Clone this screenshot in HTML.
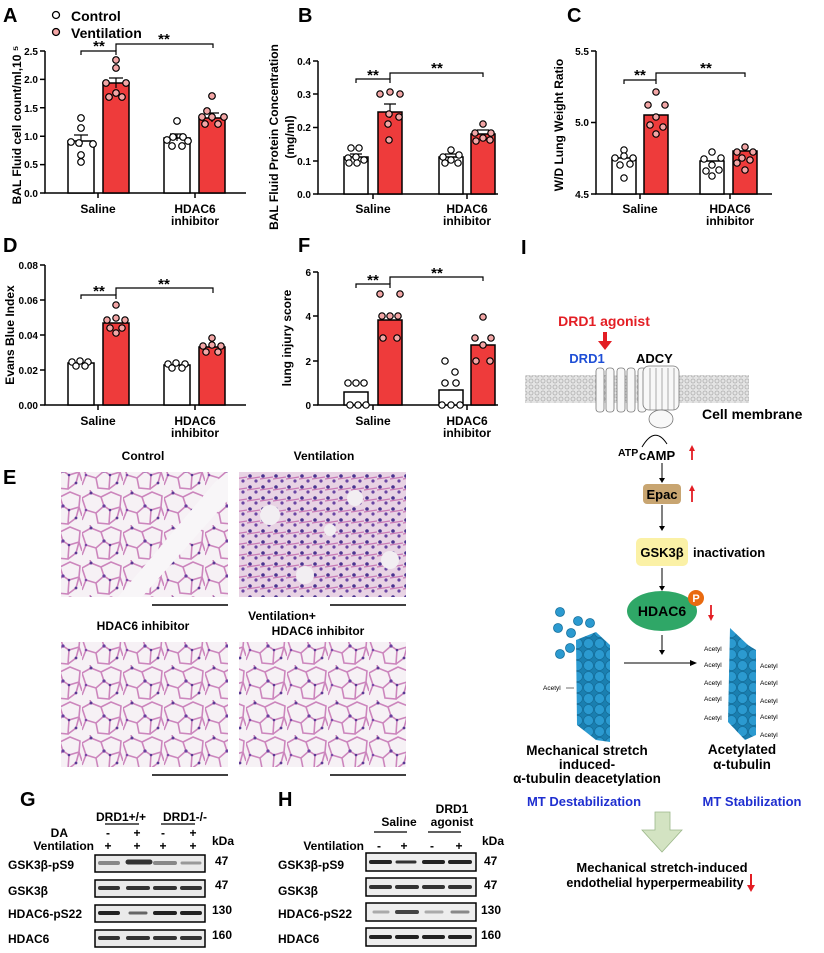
<!DOCTYPE html>
<html><head><meta charset="utf-8"><style>
body{margin:0;background:#fff}
svg{display:block;font-family:"Liberation Sans",Arial,sans-serif;font-weight:bold}
</style></head><body>
<svg width="824" height="953" viewBox="0 0 824 953" xmlns="http://www.w3.org/2000/svg">
<defs>
<pattern id="tis" width="41" height="35" patternUnits="userSpaceOnUse">
<rect width="41" height="35" fill="#f6f1f5"/>
<path d="M0 8 L9 3 L19 7 L22 16 L14 23 L4 20 Z M19 7 L29 2 L39 6 L38 17 L28 20 L22 16 M14 23 L16 33 L27 34 L28 20 M38 17 L41 26 M4 20 L0 30 M27 34 L35 28 L38 17 M9 3 L8 0" stroke="#cc86bd" stroke-width="1.6" fill="none"/>
<circle cx="9" cy="3" r="1.5" fill="#5b3a94"/><circle cx="22" cy="16" r="1.6" fill="#6a3f9e"/><circle cx="28" cy="20" r="1.3" fill="#5b3a94"/><circle cx="4" cy="20" r="1.3" fill="#7a4aa8"/><circle cx="35" cy="28" r="1.4" fill="#5b3a94"/>
</pattern>
<pattern id="tis2" width="13" height="11" patternUnits="userSpaceOnUse">
<rect width="13" height="11" fill="#e8d3e4"/>
<circle cx="3" cy="3" r="1.8" fill="#4a3390"/><circle cx="9" cy="8" r="1.6" fill="#6a46a4"/>
<path d="M0 6 L13 4" stroke="#c97ab6" stroke-width="1.3"/>
</pattern>
<pattern id="mem" width="6" height="6" patternUnits="userSpaceOnUse">
<rect width="6" height="6" fill="#e4e4e4"/><circle cx="3" cy="3" r="2" fill="none" stroke="#b0b0b0" stroke-width="0.8"/>
</pattern>
<pattern id="tub" width="11" height="11" patternUnits="userSpaceOnUse">
<rect width="11" height="11" fill="#1a7fb0"/><circle cx="5.5" cy="5.5" r="5" fill="#2b9ad0" stroke="#156f9c" stroke-width="0.8"/>
</pattern>
</defs>

<!-- ============ Panel A ============ -->
<text x="3" y="22" font-size="20">A</text>
<circle cx="56" cy="15" r="3.5" fill="#fff" stroke="#000" stroke-width="1.3"/>
<text x="71" y="21" font-size="14">Control</text>
<circle cx="56" cy="32" r="3.5" fill="#f3a6a6" stroke="#000" stroke-width="1.3"/>
<text x="71" y="38" font-size="14">Ventilation</text>
<g stroke="#000" stroke-width="1.5" fill="none">
<path d="M45 51 V193 H246"/>
<path d="M40 51 H45 M40 79.4 H45 M40 107.8 H45 M40 136.2 H45 M40 164.6 H45 M40 193 H45 M98 193 V198 M195 193 V198"/>
</g>
<g font-size="10" text-anchor="end"><text x="38" y="55">2.5</text><text x="38" y="83">2.0</text><text x="38" y="112">1.5</text><text x="38" y="140">1.0</text><text x="38" y="168">0.5</text><text x="38" y="197">0.0</text></g>
<text transform="translate(21,125) rotate(-90)" font-size="12" text-anchor="middle">BAL Fluid cell count/ml,10 ⁵</text>
<g stroke="#000" stroke-width="1.5">
<rect x="68" y="141" width="26" height="52" fill="#fff"/>
<rect x="103" y="83" width="26" height="110" fill="#ee3b3b"/>
<rect x="164" y="138" width="26" height="55" fill="#fff"/>
<rect x="199" y="118" width="26" height="75" fill="#ee3b3b"/>
</g>
<g stroke="#000" stroke-width="1.2" fill="none"><path d="M74 135 H88 M81 135 V147"/><path d="M109 78 H123 M116 78 V88"/><path d="M170 134 H184 M177 134 V141"/><path d="M205 113 H219 M212 113 V122"/></g>
<g fill="#fff" stroke="#000" stroke-width="1.2"><circle cx="81" cy="118" r="3.3"/><circle cx="81" cy="128" r="3.3"/><circle cx="71" cy="142" r="3.3"/><circle cx="93" cy="144" r="3.3"/><circle cx="79" cy="143" r="3.3"/><circle cx="81" cy="155" r="3.3"/><circle cx="81" cy="162" r="3.3"/>
<circle cx="177" cy="121" r="3.3"/><circle cx="167" cy="140" r="3.3"/><circle cx="173" cy="137" r="3.3"/><circle cx="183" cy="137" r="3.3"/><circle cx="188" cy="141" r="3.3"/><circle cx="172" cy="146" r="3.3"/><circle cx="182" cy="146" r="3.3"/></g>
<g fill="#f3a6a6" stroke="#000" stroke-width="1.2"><circle cx="116" cy="60" r="3.3"/><circle cx="116" cy="68" r="3.3"/><circle cx="106" cy="83" r="3.3"/><circle cx="126" cy="83" r="3.3"/><circle cx="109" cy="97" r="3.3"/><circle cx="122" cy="97" r="3.3"/><circle cx="116" cy="93" r="3.3"/>
<circle cx="212" cy="96" r="3.3"/><circle cx="207" cy="111" r="3.3"/><circle cx="202" cy="117" r="3.3"/><circle cx="224" cy="117" r="3.3"/><circle cx="212" cy="117" r="3.3"/><circle cx="205" cy="124" r="3.3"/><circle cx="218" cy="124" r="3.3"/></g>
<g stroke="#000" stroke-width="1.2" fill="none"><path d="M81 55 V51 H116 V55"/><path d="M116 51 V44 H213 V48"/></g>
<text x="99" y="51" font-size="15" text-anchor="middle">**</text><text x="164" y="44" font-size="15" text-anchor="middle">**</text>
<text x="98" y="213" font-size="12" text-anchor="middle">Saline</text>
<text x="195" y="213" font-size="12" text-anchor="middle">HDAC6</text><text x="195" y="225" font-size="12" text-anchor="middle">inhibitor</text>

<!-- ============ Panel B ============ -->
<text x="298" y="22" font-size="20">B</text>
<g stroke="#000" stroke-width="1.5" fill="none"><path d="M318 61 V194 H498"/><path d="M313 61 H318 M313 94 H318 M313 127.5 H318 M313 161 H318 M313 194 H318 M373 194 V199 M467 194 V199"/></g>
<g font-size="10" text-anchor="end"><text x="311" y="65">0.4</text><text x="311" y="98">0.3</text><text x="311" y="131">0.2</text><text x="311" y="165">0.1</text><text x="311" y="198">0.0</text></g>
<text transform="translate(278,137) rotate(-90)" font-size="12" text-anchor="middle">BAL Fluid Protein Concentration</text>
<text transform="translate(294,137) rotate(-90)" font-size="12" text-anchor="middle">(mg/ml)</text>
<g stroke="#000" stroke-width="1.5"><rect x="344" y="157" width="24" height="37" fill="#fff"/><rect x="378" y="112" width="24" height="82" fill="#ee3b3b"/><rect x="439" y="157" width="24" height="37" fill="#fff"/><rect x="471" y="134" width="24" height="60" fill="#ee3b3b"/></g>
<g stroke="#000" stroke-width="1.2"><path d="M350 154 H362 M384 104 H396 M390 104 V118 M445 154 H457 M477 130 H489"/></g>
<g fill="#fff" stroke="#000" stroke-width="1.2"><circle cx="351" cy="148" r="3.2"/><circle cx="359" cy="148" r="3.2"/><circle cx="348" cy="158" r="3.2"/><circle cx="356" cy="157" r="3.2"/><circle cx="364" cy="160" r="3.2"/><circle cx="349" cy="163" r="3.2"/><circle cx="357" cy="163" r="3.2"/>
<circle cx="451" cy="150" r="3.2"/><circle cx="443" cy="157" r="3.2"/><circle cx="459" cy="155" r="3.2"/><circle cx="451" cy="160" r="3.2"/><circle cx="445" cy="163" r="3.2"/><circle cx="458" cy="163" r="3.2"/></g>
<g fill="#f3a6a6" stroke="#000" stroke-width="1.2"><circle cx="380" cy="94" r="3.2"/><circle cx="390" cy="92" r="3.2"/><circle cx="400" cy="94" r="3.2"/><circle cx="389" cy="114" r="3.2"/><circle cx="399" cy="117" r="3.2"/><circle cx="388" cy="124" r="3.2"/><circle cx="389" cy="140" r="3.2"/>
<circle cx="483" cy="124" r="3.2"/><circle cx="475" cy="133" r="3.2"/><circle cx="491" cy="133" r="3.2"/><circle cx="483" cy="138" r="3.2"/><circle cx="476" cy="141" r="3.2"/><circle cx="490" cy="140" r="3.2"/></g>
<g stroke="#000" stroke-width="1.2" fill="none"><path d="M356 83 V79 H390 V83"/><path d="M390 79 V73 H483 V77"/></g>
<text x="373" y="80" font-size="15" text-anchor="middle">**</text><text x="437" y="73" font-size="15" text-anchor="middle">**</text>
<text x="373" y="213" font-size="12" text-anchor="middle">Saline</text>
<text x="467" y="213" font-size="12" text-anchor="middle">HDAC6</text><text x="467" y="225" font-size="12" text-anchor="middle">inhibitor</text>

<!-- ============ Panel C ============ -->
<text x="567" y="22" font-size="20">C</text>
<g stroke="#000" stroke-width="1.5" fill="none"><path d="M596 51 V194 H772"/><path d="M591 51 H596 M591 122.5 H596 M591 194 H596 M640 194 V199 M730 194 V199"/></g>
<g font-size="10" text-anchor="end"><text x="589" y="55">5.5</text><text x="589" y="126">5.0</text><text x="589" y="198">4.5</text></g>
<text transform="translate(563,125) rotate(-90)" font-size="12" text-anchor="middle">W/D Lung Weight Ratio</text>
<g stroke="#000" stroke-width="1.5"><rect x="612" y="158" width="24" height="36" fill="#fff"/><rect x="644" y="115" width="24" height="79" fill="#ee3b3b"/><rect x="700" y="161" width="24" height="33" fill="#fff"/><rect x="733" y="151" width="24" height="43" fill="#ee3b3b"/></g>
<g fill="#fff" stroke="#000" stroke-width="1.2"><circle cx="624" cy="150" r="3.2"/><circle cx="615" cy="158" r="3.2"/><circle cx="624" cy="156" r="3.2"/><circle cx="633" cy="158" r="3.2"/><circle cx="620" cy="165" r="3.2"/><circle cx="630" cy="164" r="3.2"/><circle cx="624" cy="178" r="3.2"/>
<circle cx="712" cy="152" r="3.2"/><circle cx="704" cy="159" r="3.2"/><circle cx="721" cy="158" r="3.2"/><circle cx="712" cy="165" r="3.2"/><circle cx="706" cy="171" r="3.2"/><circle cx="719" cy="170" r="3.2"/><circle cx="712" cy="176" r="3.2"/></g>
<g fill="#f3a6a6" stroke="#000" stroke-width="1.2"><circle cx="656" cy="92" r="3.2"/><circle cx="648" cy="105" r="3.2"/><circle cx="665" cy="105" r="3.2"/><circle cx="656" cy="117" r="3.2"/><circle cx="650" cy="125" r="3.2"/><circle cx="663" cy="127" r="3.2"/><circle cx="656" cy="134" r="3.2"/>
<circle cx="745" cy="147" r="3.2"/><circle cx="737" cy="152" r="3.2"/><circle cx="753" cy="152" r="3.2"/><circle cx="742" cy="158" r="3.2"/><circle cx="750" cy="160" r="3.2"/><circle cx="737" cy="163" r="3.2"/><circle cx="745" cy="170" r="3.2"/></g>
<g stroke="#000" stroke-width="1.2" fill="none"><path d="M624 84 V80 H656 V84"/><path d="M656 80 V73 H745 V77"/></g>
<text x="640" y="80" font-size="15" text-anchor="middle">**</text><text x="706" y="73" font-size="15" text-anchor="middle">**</text>
<text x="640" y="213" font-size="12" text-anchor="middle">Saline</text>
<text x="730" y="213" font-size="12" text-anchor="middle">HDAC6</text><text x="730" y="225" font-size="12" text-anchor="middle">inhibitor</text>

<!-- ============ Panel D ============ -->
<text x="3" y="252" font-size="20">D</text>
<g stroke="#000" stroke-width="1.5" fill="none"><path d="M45 265 V405 H246"/><path d="M40 265 H45 M40 300 H45 M40 335 H45 M40 370 H45 M40 405 H45 M98 405 V410 M195 405 V410"/></g>
<g font-size="10" text-anchor="end"><text x="38" y="269">0.08</text><text x="38" y="304">0.06</text><text x="38" y="339">0.04</text><text x="38" y="374">0.02</text><text x="38" y="409">0.00</text></g>
<text transform="translate(14,335) rotate(-90)" font-size="12" text-anchor="middle">Evans Blue Index</text>
<g stroke="#000" stroke-width="1.5"><rect x="68" y="363" width="26" height="42" fill="#fff"/><rect x="103" y="323" width="26" height="82" fill="#ee3b3b"/><rect x="164" y="365" width="26" height="40" fill="#fff"/><rect x="199" y="347" width="26" height="58" fill="#ee3b3b"/></g>
<g fill="#fff" stroke="#000" stroke-width="1.2"><circle cx="72" cy="362" r="3.2"/><circle cx="80" cy="361" r="3.2"/><circle cx="88" cy="362" r="3.2"/><circle cx="76" cy="366" r="3.2"/><circle cx="85" cy="366" r="3.2"/>
<circle cx="168" cy="364" r="3.2"/><circle cx="176" cy="363" r="3.2"/><circle cx="185" cy="364" r="3.2"/><circle cx="172" cy="368" r="3.2"/><circle cx="182" cy="368" r="3.2"/></g>
<g fill="#f3a6a6" stroke="#000" stroke-width="1.2"><circle cx="116" cy="305" r="3.2"/><circle cx="107" cy="320" r="3.2"/><circle cx="116" cy="318" r="3.2"/><circle cx="125" cy="320" r="3.2"/><circle cx="110" cy="328" r="3.2"/><circle cx="122" cy="328" r="3.2"/><circle cx="116" cy="333" r="3.2"/>
<circle cx="212" cy="338" r="3.2"/><circle cx="203" cy="346" r="3.2"/><circle cx="212" cy="345" r="3.2"/><circle cx="221" cy="346" r="3.2"/><circle cx="206" cy="352" r="3.2"/><circle cx="218" cy="352" r="3.2"/></g>
<g stroke="#000" stroke-width="1.2" fill="none"><path d="M81 299 V295 H116 V299"/><path d="M116 295 V288 H213 V293"/></g>
<text x="99" y="296" font-size="15" text-anchor="middle">**</text><text x="164" y="289" font-size="15" text-anchor="middle">**</text>
<text x="98" y="425" font-size="12" text-anchor="middle">Saline</text>
<text x="195" y="425" font-size="12" text-anchor="middle">HDAC6</text><text x="195" y="437" font-size="12" text-anchor="middle">inhibitor</text>

<!-- ============ Panel F ============ -->
<text x="298" y="252" font-size="20">F</text>
<g stroke="#000" stroke-width="1.5" fill="none"><path d="M318 272 V405 H498"/><path d="M313 272 H318 M313 316 H318 M313 361 H318 M313 405 H318 M373 405 V410 M467 405 V410"/></g>
<g font-size="10" text-anchor="end"><text x="311" y="276">6</text><text x="311" y="320">4</text><text x="311" y="365">2</text><text x="311" y="409">0</text></g>
<text transform="translate(291,338) rotate(-90)" font-size="12" text-anchor="middle">lung injury score</text>
<g stroke="#000" stroke-width="1.5"><rect x="344" y="392" width="24" height="13" fill="#fff"/><rect x="378" y="320" width="24" height="85" fill="#ee3b3b"/><rect x="439" y="390" width="24" height="15" fill="#fff"/><rect x="471" y="345" width="24" height="60" fill="#ee3b3b"/></g>
<g fill="#fff" stroke="#000" stroke-width="1.2"><circle cx="356" cy="383" r="3.2"/><circle cx="348" cy="383" r="3.2"/><circle cx="364" cy="383" r="3.2"/><circle cx="350" cy="405" r="3.2"/><circle cx="358" cy="405" r="3.2"/><circle cx="366" cy="405" r="3.2"/>
<circle cx="445" cy="361" r="3.2"/><circle cx="455" cy="372" r="3.2"/><circle cx="445" cy="383" r="3.2"/><circle cx="456" cy="383" r="3.2"/><circle cx="442" cy="405" r="3.2"/><circle cx="451" cy="405" r="3.2"/><circle cx="460" cy="405" r="3.2"/></g>
<g fill="#f3a6a6" stroke="#000" stroke-width="1.2"><circle cx="380" cy="294" r="3.2"/><circle cx="400" cy="294" r="3.2"/><circle cx="390" cy="316" r="3.2"/><circle cx="382" cy="316" r="3.2"/><circle cx="398" cy="316" r="3.2"/><circle cx="383" cy="338" r="3.2"/><circle cx="397" cy="338" r="3.2"/>
<circle cx="483" cy="317" r="3.2"/><circle cx="475" cy="338" r="3.2"/><circle cx="491" cy="338" r="3.2"/><circle cx="483" cy="345" r="3.2"/><circle cx="476" cy="361" r="3.2"/><circle cx="490" cy="361" r="3.2"/></g>
<g stroke="#000" stroke-width="1.2" fill="none"><path d="M356 288 V284 H390 V288"/><path d="M390 284 V277 H483 V281"/></g>
<text x="373" y="285" font-size="15" text-anchor="middle">**</text><text x="437" y="278" font-size="15" text-anchor="middle">**</text>
<text x="373" y="425" font-size="12" text-anchor="middle">Saline</text>
<text x="467" y="425" font-size="12" text-anchor="middle">HDAC6</text><text x="467" y="437" font-size="12" text-anchor="middle">inhibitor</text>

<!-- ============ Panel E ============ -->
<text x="3" y="484" font-size="20">E</text>
<text x="143" y="460" font-size="12" text-anchor="middle">Control</text>
<text x="324" y="460" font-size="12" text-anchor="middle">Ventilation</text>
<rect x="61" y="472" width="167" height="125" fill="url(#tis)"/>
<path d="M118 597 L215 482 L228 472 L228 500 L142 597 Z" fill="#f8f6f8"/>
<rect x="239" y="472" width="167" height="125" fill="url(#tis2)"/>
<circle cx="270" cy="515" r="10" fill="#f2eef2"/><circle cx="305" cy="575" r="9" fill="#f2eef2"/><circle cx="355" cy="498" r="8" fill="#f2eef2"/><circle cx="390" cy="560" r="9" fill="#f2eef2"/><circle cx="330" cy="530" r="6" fill="#f2eef2"/>
<path d="M152 605 H228 M330 605 H406" stroke="#000" stroke-width="1.5"/>
<text x="143" y="630" font-size="12" text-anchor="middle">HDAC6 inhibitor</text>
<text x="282" y="620" font-size="12" text-anchor="middle">Ventilation+</text>
<text x="318" y="635" font-size="12" text-anchor="middle">HDAC6 inhibitor</text>
<rect x="61" y="642" width="167" height="125" fill="url(#tis)"/>
<rect x="239" y="642" width="167" height="125" fill="url(#tis)"/>
<path d="M152 775 H228 M330 775 H406" stroke="#000" stroke-width="1.5"/>

<!-- ============ Panel G ============ -->
<text x="20" y="806" font-size="20">G</text>
<text x="96" y="821" font-size="12">DRD1+/+</text><text x="163" y="821" font-size="12">DRD1-/-</text>
<path d="M105 824 H139 M161 824 H195" stroke="#000" stroke-width="1.2"/>
<text x="68" y="837" font-size="12" text-anchor="end">DA</text>
<text x="94" y="850" font-size="12" text-anchor="end">Ventilation</text>
<g font-size="12" text-anchor="middle"><text x="108" y="837">-</text><text x="137" y="837">+</text><text x="163" y="837">-</text><text x="193" y="837">+</text>
<text x="108" y="850">+</text><text x="137" y="850">+</text><text x="163" y="850">+</text><text x="193" y="850">+</text></g>
<text x="212" y="845" font-size="12">kDa</text>
<g font-size="12">
<text x="8" y="869">GSK3β-pS9</text><text x="8" y="895">GSK3β</text><text x="8" y="918">HDAC6-pS22</text><text x="8" y="943">HDAC6</text>
<text x="215" y="865">47</text><text x="215" y="889">47</text><text x="212" y="914">130</text><text x="212" y="939">160</text>
</g>
<g stroke="#000" stroke-width="1.5" fill="#eaeaea">
<rect x="95" y="855" width="110" height="17"/><rect x="95" y="880" width="110" height="17"/><rect x="95" y="905" width="110" height="17"/><rect x="95" y="930" width="110" height="17"/>
</g>
<g stroke-linecap="round">
<path d="M100 863 H118" stroke="#888" stroke-width="4"/><path d="M128 862 H150" stroke="#333" stroke-width="5"/><path d="M155 863 H175" stroke="#888" stroke-width="4"/><path d="M182 863 H200" stroke="#999" stroke-width="3"/>
<path d="M100 888 H118 M128 888 H148 M155 888 H175 M182 888 H200" stroke="#333" stroke-width="4"/>
<path d="M100 913 H118 M155 913 H175 M182 913 H200" stroke="#222" stroke-width="4"/><path d="M130 913 H146" stroke="#666" stroke-width="3"/>
<path d="M100 938 H118 M128 938 H148 M155 938 H175 M182 938 H200" stroke="#333" stroke-width="4"/>
</g>

<!-- ============ Panel H ============ -->
<text x="278" y="806" font-size="20">H</text>
<text x="399" y="826" font-size="12" text-anchor="middle">Saline</text>
<text x="452" y="813" font-size="12" text-anchor="middle">DRD1</text><text x="452" y="826" font-size="12" text-anchor="middle">agonist</text>
<path d="M374 832 H407 M428 832 H461" stroke="#000" stroke-width="1.2"/>
<text x="364" y="850" font-size="12" text-anchor="end">Ventilation</text>
<g font-size="12" text-anchor="middle"><text x="379" y="850">-</text><text x="404" y="850">+</text><text x="432" y="850">-</text><text x="459" y="850">+</text></g>
<text x="482" y="845" font-size="12">kDa</text>
<g font-size="12">
<text x="278" y="869">GSK3β-pS9</text><text x="278" y="895">GSK3β</text><text x="278" y="918">HDAC6-pS22</text><text x="278" y="943">HDAC6</text>
<text x="484" y="865">47</text><text x="484" y="889">47</text><text x="481" y="914">130</text><text x="481" y="939">160</text>
</g>
<g stroke="#000" stroke-width="1.5" fill="#ededed">
<rect x="366" y="853" width="110" height="18"/><rect x="366" y="878" width="110" height="18"/><rect x="366" y="903" width="110" height="18"/><rect x="366" y="928" width="110" height="18"/>
</g>
<g stroke-linecap="round">
<path d="M371 862 H390 M424 862 H443 M450 862 H470" stroke="#222" stroke-width="4"/><path d="M397 862 H415" stroke="#333" stroke-width="3"/>
<path d="M371 887 H390 M397 887 H417 M424 887 H443 M450 887 H470" stroke="#333" stroke-width="4"/>
<path d="M374 912 H388 M426 912 H442" stroke="#aaa" stroke-width="3"/><path d="M397 912 H417" stroke="#444" stroke-width="4"/><path d="M452 912 H468" stroke="#888" stroke-width="3"/>
<path d="M371 937 H390 M397 937 H417 M424 937 H443 M450 937 H470" stroke="#222" stroke-width="4"/>
</g>

<!-- ============ Panel I ============ -->
<text x="521" y="254" font-size="20">I</text>
<text x="604" y="326" font-size="14" fill="#e31e24" text-anchor="middle">DRD1 agonist</text>
<path d="M605 332 V343" stroke="#e31e24" stroke-width="4"/><path d="M598 341 L605 350 L612 341 Z" fill="#e31e24"/>
<text x="587" y="363" font-size="13" fill="#1f4fd6" text-anchor="middle">DRD1</text>
<text x="636" y="363" font-size="13">ADCY</text>
<rect x="525" y="375" width="224" height="28" fill="url(#mem)"/>
<g fill="#f8f8f8" stroke="#777" stroke-width="0.8">
<rect x="596" y="368" width="8" height="44" rx="3"/><rect x="606" y="368" width="8" height="44" rx="3"/><rect x="617" y="368" width="8" height="44" rx="3"/><rect x="627" y="368" width="8" height="44" rx="3"/><rect x="638" y="368" width="8" height="44" rx="3"/>
<rect x="643" y="366" width="36" height="44" rx="6"/>
<ellipse cx="661" cy="419" rx="12" ry="9"/>
</g>
<g stroke="#777" stroke-width="0.6"><path d="M650 368 V410 M656 368 V410 M662 368 V410 M668 368 V410 M674 368 V410"/></g>
<text x="702" y="419" font-size="14">Cell membrane</text>
<path d="M642 447 Q655 425 667 444" stroke="#000" fill="none" stroke-width="1"/>
<text x="618" y="456" font-size="10.5" font-weight="bold">ATP</text><text x="639" y="460" font-size="13">cAMP</text>
<path d="M692 448 V460" stroke="#e31e24" stroke-width="1.8"/><path d="M689 451 L692 445 L695 451 Z" fill="#e31e24"/>
<path d="M662 463 V480" stroke="#000" stroke-width="1"/><path d="M659 478 L662 483 L665 478 Z"/>
<rect x="643" y="484" width="38" height="20" rx="4" fill="#c8a571"/>
<text x="662" y="499" font-size="13" text-anchor="middle">Epac</text>
<path d="M692 488 V502" stroke="#e31e24" stroke-width="1.8"/><path d="M689 491 L692 485 L695 491 Z" fill="#e31e24"/>
<path d="M662 505 V528" stroke="#000" stroke-width="1"/><path d="M659 526 L662 531 L665 526 Z"/>
<rect x="636" y="538" width="52" height="28" rx="5" fill="#fbf1a6"/>
<text x="662" y="557" font-size="13" text-anchor="middle">GSK3β</text>
<text x="693" y="557" font-size="13">inactivation</text>
<path d="M662 568 V588" stroke="#000" stroke-width="1"/><path d="M659 586 L662 591 L665 586 Z"/>
<ellipse cx="662" cy="611" rx="35" ry="20" fill="#2fa767"/>
<text x="662" y="616" font-size="14" text-anchor="middle">HDAC6</text>
<circle cx="696" cy="598" r="8" fill="#e96a10"/><text x="696" y="602" font-size="11" fill="#fff" text-anchor="middle">P</text>
<path d="M711 605 V618" stroke="#e31e24" stroke-width="1.8"/><path d="M708 615 L711 621 L714 615 Z" fill="#e31e24"/>
<path d="M662 635 V652" stroke="#000" stroke-width="1"/><path d="M659 650 L662 655 L665 650 Z"/>
<path d="M624 663 H692" stroke="#000" stroke-width="1"/><path d="M690 660 L697 663 L690 666 Z"/>
<g fill="#2b9ad0" stroke="#156f9c" stroke-width="0.8">
<circle cx="560" cy="612" r="4.5"/><circle cx="578" cy="621" r="4.5"/><circle cx="590" cy="623" r="4.5"/><circle cx="558" cy="628" r="4.5"/><circle cx="571" cy="633" r="4.5"/><circle cx="570" cy="648" r="4.5"/><circle cx="560" cy="654" r="4.5"/>
</g>
<path d="M576 640 L596 632 L610 645 L610 742 L596 740 L577 725 Z" fill="url(#tub)"/>
<text x="543" y="690" font-size="6.5" font-weight="normal">Acetyl</text><path d="M566 688 H574" stroke="#333" stroke-width="0.7"/>
<path d="M730 628 L748 645 L756 650 L756 735 L745 740 L728 722 Z" fill="url(#tub)"/>
<g font-size="6.5" font-weight="normal">
<text x="704" y="651">Acetyl</text><text x="704" y="667">Acetyl</text><text x="704" y="685">Acetyl</text><text x="704" y="701">Acetyl</text><text x="704" y="720">Acetyl</text>
<text x="760" y="668">Acetyl</text><text x="760" y="685">Acetyl</text><text x="760" y="703">Acetyl</text><text x="760" y="719">Acetyl</text><text x="760" y="737">Acetyl</text>
</g>
<g font-size="13.5" text-anchor="middle">
<text x="587" y="755">Mechanical stretch</text><text x="587" y="769">induced-</text><text x="587" y="783">α-tubulin deacetylation</text>
<text x="742" y="754">Acetylated</text><text x="742" y="769">α-tubulin</text>
</g>
<text x="584" y="806" font-size="13" fill="#1f2fd0" text-anchor="middle">MT Destabilization</text>
<text x="752" y="806" font-size="13" fill="#1f2fd0" text-anchor="middle">MT Stabilization</text>
<path d="M655 812 H670 V830 H682 L662 852 L642 830 H655 Z" fill="#d3e3c2" stroke="#9cb88a" stroke-width="0.8"/>
<text x="662" y="872" font-size="13" text-anchor="middle">Mechanical stretch-induced</text>
<text x="655" y="887" font-size="12.5" text-anchor="middle">endothelial hyperpermeability</text>
<path d="M751 874 V888" stroke="#e31e24" stroke-width="2"/><path d="M747 885 L751 892 L755 885 Z" fill="#e31e24"/>
</svg>
</body></html>
